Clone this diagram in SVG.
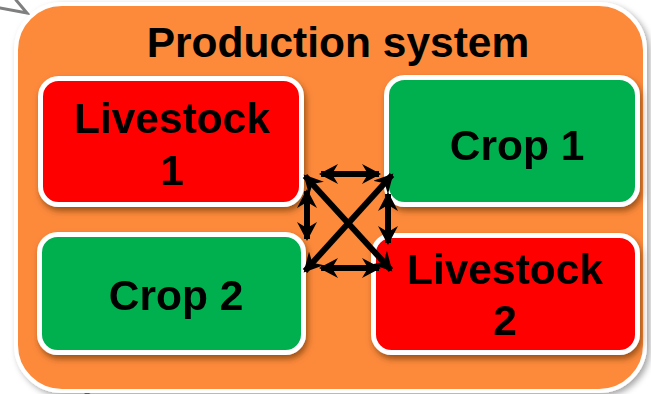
<svg xmlns="http://www.w3.org/2000/svg" width="651" height="394" viewBox="0 0 651 394">
  <style>
    .frame { fill: #FD8A3B; stroke: #FFFFFF; stroke-width: 4; }
    .box { stroke: #FFFFFF; stroke-width: 5; }
    .red { fill: #FF0000; }
    .green { fill: #00B050; }
    .label { font-family: "Liberation Sans", Arial, sans-serif; font-weight: bold; font-size: 42.5px; fill: #000000; text-anchor: middle; }
    .link { stroke: #000000; stroke-width: 6; fill: none; marker-start: url(#head); marker-end: url(#head); }
    .tail { stroke: #7F7F7F; stroke-width: 3; fill: none; stroke-linecap: round; }
  </style>
  <defs>
    <filter id="frameShadow" x="-5%" y="-5%" width="112%" height="115%">
      <feDropShadow dx="3" dy="3" stdDeviation="3" flood-color="#000000" flood-opacity="0.35"/>
    </filter>
    <filter id="boxShadow" x="-5%" y="-5%" width="115%" height="125%">
      <feDropShadow dx="2" dy="4" stdDeviation="3" flood-color="#5A2A00" flood-opacity="0.6"/>
    </filter>
    <marker id="head" markerUnits="userSpaceOnUse" markerWidth="24" markerHeight="24" refX="17" refY="10" orient="auto-start-reverse">
      <path d="M0,0 L19,10 L0,20 L6,10 Z" fill="#000000"/>
    </marker>
  </defs>

  <rect width="651" height="394" fill="#FFFFFF"/>

  <!-- callout tails peeking out from behind the frame -->
  <g id="tails">
    <path class="tail" d="M0,8 L27,13 L16,0"/>
    <path class="tail" d="M86,394 L91,391"/>
  </g>

  <!-- outer production system panel -->
  <g id="production-system">
    <rect class="frame" x="16" y="4" width="629" height="387" rx="46" ry="46" filter="url(#frameShadow)"/>
    <text class="label" x="338" y="57">Production system</text>
  </g>

  <g id="livestock-1" filter="url(#boxShadow)">
    <rect class="box red" x="40.5" y="78.5" width="261" height="126" rx="18" ry="18"/>
    <text class="label" x="172" y="133">Livestock</text>
    <text class="label" x="172" y="185">1</text>
  </g>

  <g id="crop-1" filter="url(#boxShadow)">
    <rect class="box green" x="386.5" y="77.5" width="251" height="127" rx="18" ry="18"/>
    <text class="label" x="517" y="160">Crop 1</text>
  </g>

  <g id="crop-2" filter="url(#boxShadow)">
    <rect class="box green" x="39.5" y="234.5" width="264" height="118" rx="18" ry="18"/>
    <text class="label" x="176" y="310">Crop 2</text>
  </g>

  <g id="livestock-2" filter="url(#boxShadow)">
    <rect class="box red" x="373.5" y="235.5" width="264" height="117" rx="18" ry="18"/>
    <text class="label" x="505" y="284">Livestock</text>
    <text class="label" x="505" y="335">2</text>
  </g>

  <!-- two-way exchanges between the four enterprises -->
  <g id="connectors">
    <line class="link" x1="321" y1="174" x2="379" y2="174"/>
    <line class="link" x1="321" y1="268" x2="379" y2="268"/>
    <line class="link" x1="307" y1="191" x2="307" y2="239"/>
    <line class="link" x1="388" y1="194" x2="388" y2="243"/>
    <line class="link" x1="305" y1="176" x2="391" y2="270"/>
    <line class="link" x1="392" y1="175" x2="305" y2="271"/>
  </g>
</svg>
